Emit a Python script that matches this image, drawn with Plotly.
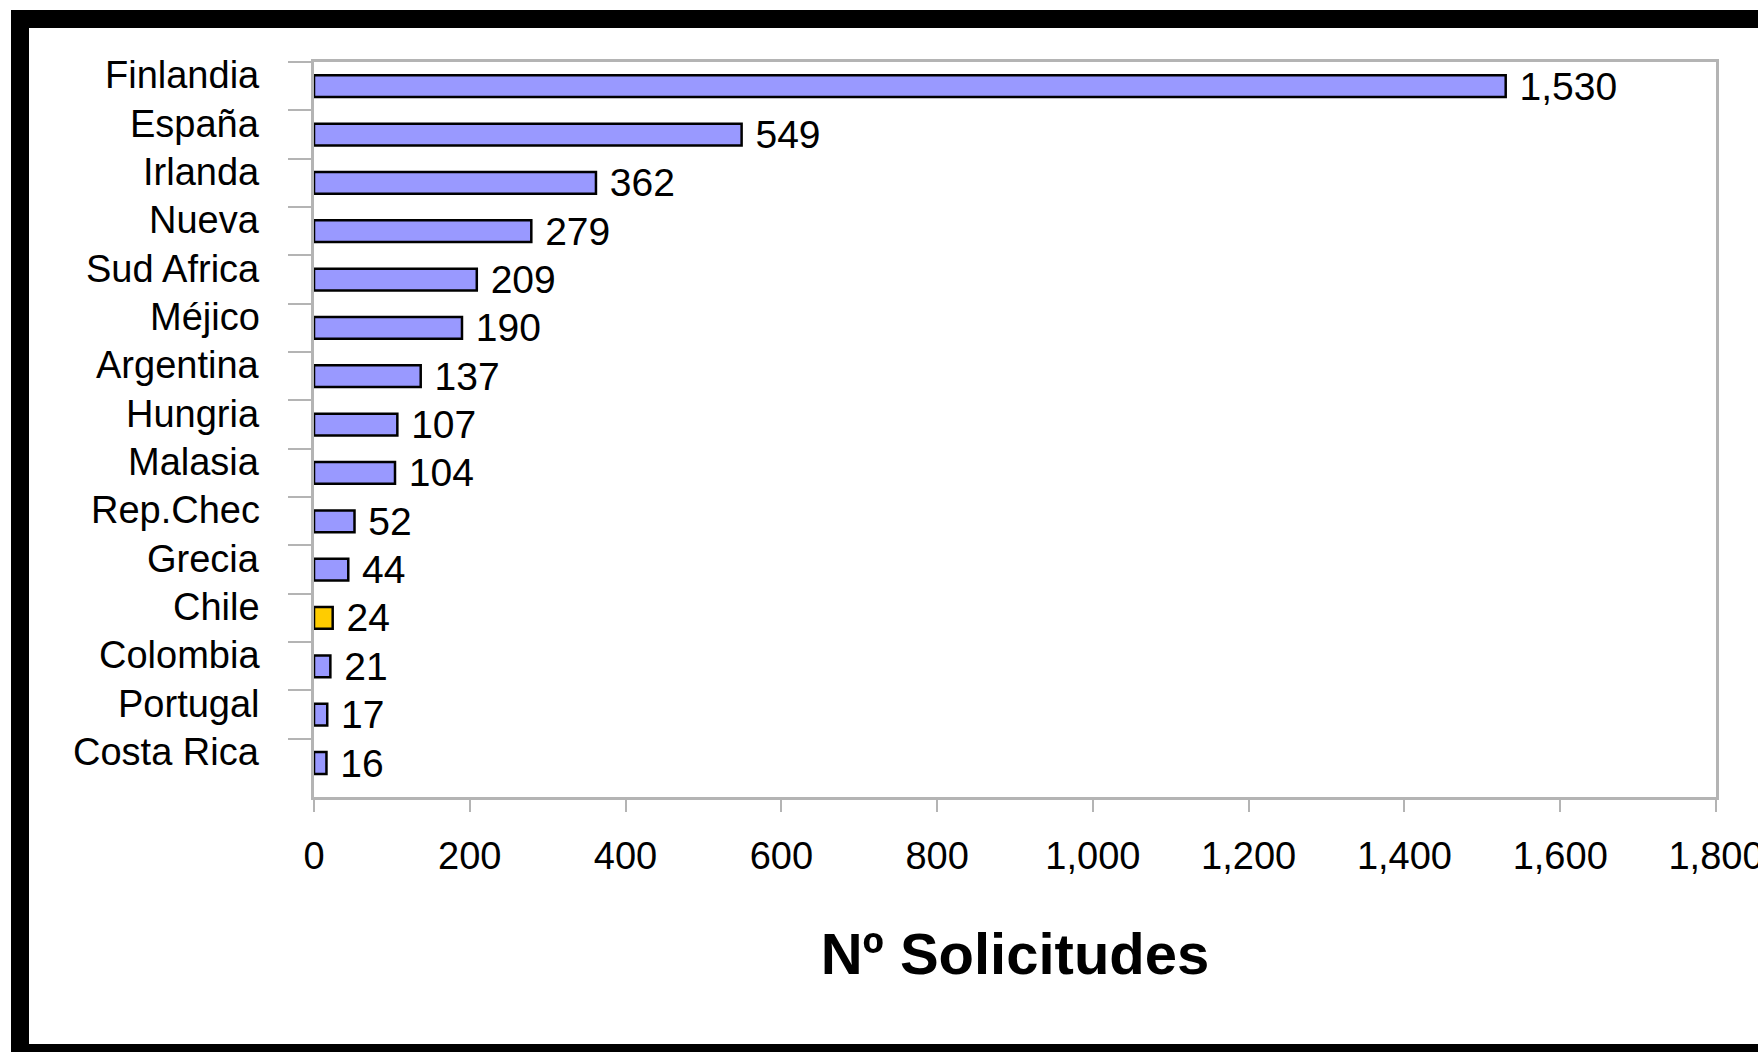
import plotly.graph_objects as go

countries = ["Finlandia", "España", "Irlanda", "Nueva", "Sud Africa", "Méjico",
             "Argentina", "Hungria", "Malasia", "Rep.Chec", "Grecia", "Chile",
             "Colombia", "Portugal", "Costa Rica"]
solicitudes = [1530, 549, 362, 279, 209, 190, 137, 107, 104, 52, 44, 24, 21, 17, 16]
highlight = "Chile"
x_ticks = [0, 200, 400, 600, 800, 1000, 1200, 1400, 1600, 1800]
x_title = "Nº Solicitudes"

W, H = 1758, 1052
L, R, T, B = 314, 1716, 62, 797

bar_colors = ["#FFCC00" if c == highlight else "#9999FF" for c in countries]

FONT = "Liberation Sans, Arial, sans-serif"

fig = go.Figure()
fig.add_trace(go.Bar(
    y=countries,
    x=solicitudes,
    orientation="h",
    marker=dict(color=bar_colors, line=dict(color="#000000", width=2.5)),
    text=solicitudes,
    texttemplate="\u00a0%{x:,}",
    textposition="outside",
    constraintext="none",
    textfont=dict(family=FONT, size=39, color="#000000"),
    cliponaxis=False,
    width=0.45,
))

# category labels (slightly raised relative to bars, as in reference)
for c in countries:
    fig.add_annotation(
        x=0, xref="paper", xanchor="right", xshift=-52,
        y=c, yref="y", yanchor="middle", yshift=11,
        text=c, showarrow=False,
        font=dict(family=FONT, size=38, color="#000000"),
    )

def px_x(p):
    return (p - L) / (R - L)

def px_y(p):
    return (B - p) / (B - T)

# black frame (right side cropped)
frame = [
    (11, 10, 1800, 28),   # top
    (11, 10, 29, 1100),   # left
    (11, 1044, 1800, 1100),  # bottom
]
for x0, y0, x1, y1 in frame:
    fig.add_shape(type="rect", xref="paper", yref="paper",
                  x0=px_x(x0), x1=px_x(x1), y0=px_y(y1), y1=px_y(y0),
                  fillcolor="#000000", line=dict(width=0), layer="above")

fig.update_layout(
    width=W, height=H,
    margin=dict(l=L, r=W - R, t=T, b=H - B, pad=0, autoexpand=False),
    paper_bgcolor="#ffffff",
    plot_bgcolor="#ffffff",
    showlegend=False,
    font=dict(family=FONT, color="#000000"),
    xaxis=dict(
        range=[0, 1800],
        tickvals=x_ticks,
        tickformat=",",
        automargin=False,
        ticks="outside", ticklen=12, tickwidth=2, tickcolor="#b4b4b4",
        showgrid=False, zeroline=False,
        showline=True, linecolor="#b4b4b4", linewidth=3, mirror=True,
        tickfont=dict(family=FONT, size=38, color="#000000"),
        ticklabelstandoff=11,
        ticklabeloverflow="allow",
        title=dict(text="<b>" + x_title + "</b>", font=dict(family=FONT, size=58, color="#000000"), standoff=58),
    ),
    yaxis=dict(
        autorange="reversed",
        automargin=False,
        showticklabels=False,
        tickson="boundaries",
        ticks="outside", ticklen=23, tickwidth=2, tickcolor="#b4b4b4",
        showgrid=False, zeroline=False,
        showline=True, linecolor="#b4b4b4", linewidth=3, mirror=True,
    ),
)

fig.write_html("out.html",
               config={"displayModeBar": False},
               post_script="document.body.style.margin='0';document.body.style.overflow='hidden';")
